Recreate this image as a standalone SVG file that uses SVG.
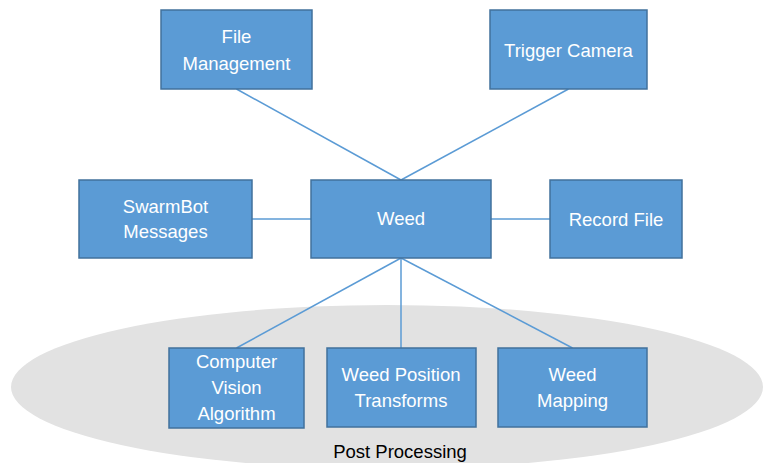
<svg xmlns="http://www.w3.org/2000/svg" width="764" height="463" viewBox="0 0 764 463">
  <style>
    .box { fill: #5b9bd5; stroke: #41719c; stroke-width: 1.5; }
    .lbl { font-family: "Liberation Sans", Arial, sans-serif; font-size: 18.5px; fill: #ffffff; text-anchor: middle; }
    .link { stroke: #5b9bd5; stroke-width: 1.5; fill: none; }
    .caption { font-family: "Liberation Sans", Arial, sans-serif; font-size: 18.5px; fill: #000000; text-anchor: middle; }
  </style>

  <rect width="764" height="463" fill="#ffffff"/>

  <!-- post-processing region -->
  <g id="post-processing">
    <ellipse cx="387" cy="387" rx="376" ry="82" fill="#e2e2e2"/>
    <text class="caption" x="400" y="458">Post Processing</text>
  </g>

  <!-- connectors -->
  <g id="connectors">
    <line class="link" x1="236.5" y1="89" x2="401" y2="180"/>
    <line class="link" x1="568.5" y1="89" x2="401" y2="180"/>
    <line class="link" x1="252" y1="219" x2="311" y2="219"/>
    <line class="link" x1="491" y1="219" x2="550" y2="219"/>
    <line class="link" x1="401" y1="258" x2="236.5" y2="348"/>
    <line class="link" x1="401" y1="258" x2="401" y2="348"/>
    <line class="link" x1="401" y1="258" x2="572.5" y2="348"/>
  </g>

  <g id="file-management">
    <rect class="box" x="161" y="10" width="151" height="79"/>
    <text class="lbl" x="236.5" y="43">File</text>
    <text class="lbl" x="236.5" y="70">Management</text>
  </g>

  <g id="trigger-camera">
    <rect class="box" x="490" y="10" width="157" height="79"/>
    <text class="lbl" x="568.5" y="57">Trigger Camera</text>
  </g>

  <g id="swarmbot-messages">
    <rect class="box" x="79" y="180" width="173" height="78"/>
    <text class="lbl" x="165.5" y="213">SwarmBot</text>
    <text class="lbl" x="165.5" y="238">Messages</text>
  </g>

  <g id="weed">
    <rect class="box" x="311" y="180" width="180" height="78"/>
    <text class="lbl" x="401" y="225">Weed</text>
  </g>

  <g id="record-file">
    <rect class="box" x="550" y="180" width="132" height="78"/>
    <text class="lbl" x="616" y="226">Record File</text>
  </g>

  <g id="computer-vision">
    <rect class="box" x="169" y="348" width="135" height="80"/>
    <text class="lbl" x="236.5" y="368">Computer</text>
    <text class="lbl" x="236.5" y="394">Vision</text>
    <text class="lbl" x="236.5" y="420">Algorithm</text>
  </g>

  <g id="weed-position-transforms">
    <rect class="box" x="327" y="348" width="149" height="79"/>
    <text class="lbl" x="401" y="381">Weed Position</text>
    <text class="lbl" x="401" y="407">Transforms</text>
  </g>

  <g id="weed-mapping">
    <rect class="box" x="498" y="348" width="149" height="79"/>
    <text class="lbl" x="572.5" y="381">Weed</text>
    <text class="lbl" x="572.5" y="407">Mapping</text>
  </g>
</svg>
